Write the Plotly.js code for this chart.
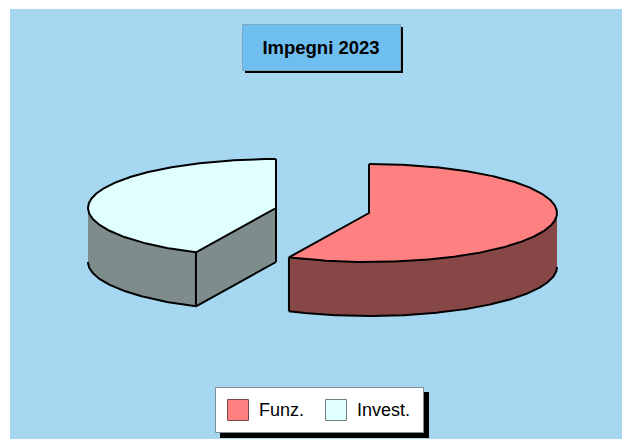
<!DOCTYPE html>
<html>
<head>
<meta charset="utf-8">
<script src="https://cdn.plot.ly/plotly-3.0.1.min.js"></script>
<style>html,body{margin:0;padding:0;background:#fff}#chart{width:622px;height:439px}</style>
</head>
<body>
<div id="chart"></div>
<script>
// Data
const categories = ['Funz.', 'Invest.'];
const values = [57, 43];
const chartTitle = 'Impegni 2023';

// Styles
const topColors = ['#FF8080', '#E0FFFF'];
const sideColors = ['#874747', '#7F8C8C'];
const pageColor = '#A6D7F0';
const titleColor = '#6FBEF0';
const edgeWidth = 2;

// Pie geometry in pixel-like axis units
const rx = 188, ry = 49, depth = 54;
const centers = [[369, 213], [276, 208]];

const total = values.reduce((a, b) => a + b, 0);
const ell = (c, t, dz) => [c[0] + rx * Math.sin(t), c[1] - ry * Math.cos(t) + dz];
function arc(c, a, b, dz) {
  const pts = [], n = Math.max(2, Math.ceil(Math.abs(b - a) / 0.01));
  for (let i = 0; i <= n; i++) pts.push(ell(c, a + (b - a) * i / n, dz));
  return pts;
}
const poly = (pts, color) => ({
  type: 'scatter', mode: 'lines', x: pts.map(p => p[0]), y: pts.map(p => p[1]),
  fill: 'toself', fillcolor: color, line: {width: 0, color: color}, hoverinfo: 'skip'
});
const edge = pts => ({
  type: 'scatter', mode: 'lines', x: pts.map(p => p[0]), y: pts.map(p => p[1]),
  line: {width: edgeWidth, color: '#000'}, hoverinfo: 'skip'
});

const splitAngle = 2 * Math.PI * values[0] / total;
const traces = [];
const rightAngle = Math.PI / 2, leftAngle = 3 * Math.PI / 2;

// Second slice (left): starts at the split angle and closes at the top
{
  const c = centers[1];
  const outerTop = arc(c, splitAngle, leftAngle, 0);
  const outerBot = arc(c, splitAngle, leftAngle, depth);
  const tip = ell(c, splitAngle, 0), tipB = ell(c, splitAngle, depth);
  const cB = [c[0], c[1] + depth];
  traces.push(poly(outerTop.concat(outerBot.slice().reverse()), sideColors[1]));
  traces.push(poly([c, tip, tipB, cB], sideColors[1]));
  traces.push(poly([c].concat(arc(c, splitAngle, 2 * Math.PI, 0)), topColors[1]));
  traces.push(edge(outerBot));
  traces.push(edge([tip, tipB]));
  traces.push(edge([tipB, cB]));
  traces.push(edge([ell(c, 0, 0), cB]));
  traces.push(edge([ell(c, 2 * Math.PI, 0)].concat([c, tip])));
  traces.push(edge(arc(c, splitAngle, 2 * Math.PI, 0)));
}
// First slice (right): from the top clockwise to the split angle
{
  const c = centers[0];
  const outerTop = arc(c, rightAngle, splitAngle, 0);
  const outerBot = arc(c, rightAngle, splitAngle, depth);
  const tip = ell(c, splitAngle, 0), tipB = ell(c, splitAngle, depth);
  traces.push(poly(outerTop.concat(outerBot.slice().reverse()), sideColors[0]));
  traces.push(poly([c].concat(arc(c, 0, splitAngle, 0)), topColors[0]));
  traces.push(edge(outerBot));
  traces.push(edge([tip, tipB]));
  traces.push(edge([ell(c, 0, 0), c, tip]));
  traces.push(edge(arc(c, 0, splitAngle, 0)));
}

const rect = (x0, y0, x1, y1, fill, line, lw) => ({
  type: 'rect', xref: 'x', yref: 'y', x0, y0, x1, y1, fillcolor: fill,
  line: {color: line || fill, width: lw === undefined ? 0 : lw}
});
const shapes = [
  Object.assign(rect(10, 9, 622, 439, pageColor), {layer: 'below'}),
  rect(245, 27, 403, 73, '#000'),
  rect(242.5, 24.5, 400.5, 70.5, titleColor, '#7FA6BF', 1),
  rect(220, 392, 429, 438, '#000'),
  rect(215.5, 387.5, 423.5, 432.5, '#fff', '#808A94', 1),
  rect(227.5, 399.5, 248.5, 420.5, topColors[0], '#7A4A4A', 1),
  rect(325.5, 399.5, 346.5, 420.5, topColors[1], '#6F7F7F', 1)
];
const legendX = [259, 357];
const annotations = categories.map((name, i) => ({
  xref: 'x', yref: 'y', x: legendX[i], y: 410, xanchor: 'left', yanchor: 'middle',
  text: name, showarrow: false, xshift: -2,
  font: {family: 'Liberation Sans, Arial, sans-serif', size: 18, color: '#000'}
}));

const hidden = {visible: false, fixedrange: true};
const layout = {
  width: 622, height: 439, margin: {l: 0, r: 0, t: 0, b: 0, pad: 0},
  paper_bgcolor: '#fff', plot_bgcolor: 'rgba(0,0,0,0)', showlegend: false,
  xaxis: Object.assign({range: [0, 622]}, hidden),
  yaxis: Object.assign({range: [439, 0]}, hidden),
  title: {
    text: '<b>' + chartTitle + '</b>', x: 321 / 622, xref: 'paper', xanchor: 'center',
    y: 1 - 48 / 439, yref: 'paper', yanchor: 'middle',
    font: {family: 'Liberation Sans, Arial, sans-serif', size: 18.5, color: '#000'}
  },
  shapes, annotations
};
Plotly.newPlot('chart', traces, layout, {displayModeBar: false, staticPlot: true});
</script>
</body>
</html>
